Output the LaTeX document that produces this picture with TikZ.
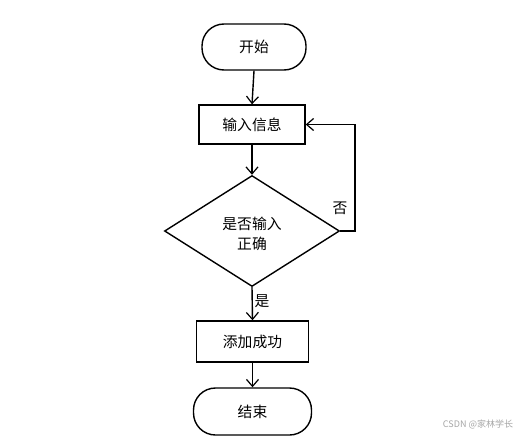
\documentclass[tikz,border=0pt]{standalone}
\usepackage{fontspec}
\newfontfamily\cjk{Noto Sans CJK SC}
\usetikzlibrary{shapes.geometric,arrows.meta}
\begin{document}
\begin{tikzpicture}[x=1pt,y=-1pt,
  line width=1.4pt,
  every node/.style={font=\cjk\fontsize{14.8}{17}\selectfont},
  term/.style={draw,rectangle,rounded corners=22pt,inner sep=0pt},
  proc/.style={draw,rectangle,inner sep=0pt},
  deci/.style={draw,diamond,inner sep=0pt,minimum width=175pt,minimum height=111pt,shape aspect=1.58},
  flow/.style={-{Straight Barb[length=7pt,width=12pt,line width=1.2pt]}},
  lbl/.style={inner sep=0pt}]
\useasboundingbox[fill=white] (0,0) rectangle (521,436);
\node[term,minimum width=104pt,minimum height=46pt] (start) at (254,47) {开始};
\node[proc,minimum width=106pt,minimum height=39pt] (inp) at (252,124.5) {输入信息};
\node[deci] (dec) at (252,231) {};
\node[lbl,align=center] (dectext) at (252,233.5) {是否输入\\[3pt]正确};
\node[proc,minimum width=112pt,minimum height=41pt] (add) at (252.5,341.5) {添加成功};
\node[term,minimum width=118pt,minimum height=47pt] (end) at (252.5,411.5) {结束};
\coordinate (fb) at (355,231);
\draw[flow] (start.south) -- (inp.north);
\draw[flow] (inp.south) -- (dec.north);
\draw[flow] (dec.south) -- (add.north);
\draw[flow] (add.south) -- (end.north);
\draw[flow] (dec.east) -- (fb) |- (inp.east);
\node[lbl] (no) at (340,208) {否};
\node[lbl] (yes) at (262,301) {是};
\node[lbl,text=gray!70,font=\cjk\fontsize{9}{11}\selectfont] (wm) at (478,424) {CSDN @家林学长};
\end{tikzpicture}
\end{document}
